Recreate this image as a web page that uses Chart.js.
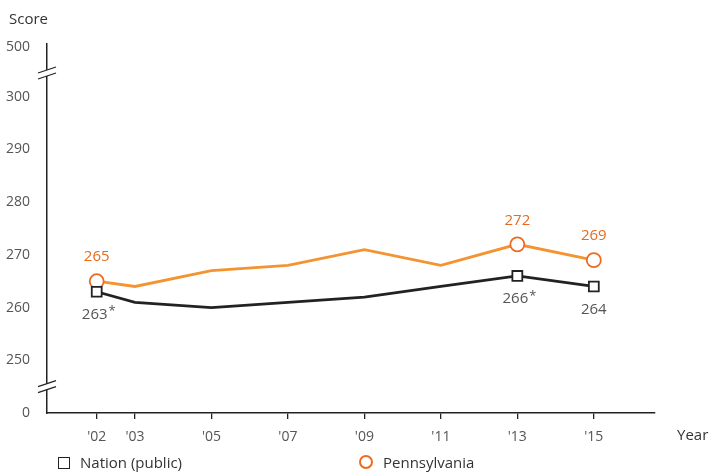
<!DOCTYPE html>
<html>
<head>
<meta charset="utf-8">
<script src="https://cdn.jsdelivr.net/npm/chart.js@4"></script>
<style>
  body { margin: 0; background: #fff; }
  #wrap { position: relative; width: 715px; height: 472px; overflow: hidden; font-family: "Open Sans", sans-serif; }
  .leg { position: absolute; top: 452px; font-size: 15px; color: #333; white-space: nowrap; }
  .sq { display: inline-block; width: 10px; height: 10px; border: 1.8px solid #222; margin-right: 10px; vertical-align: -1px; }
  .ci { display: inline-block; width: 10px; height: 10px; border: 2px solid #ee6a1f; border-radius: 50%; margin-right: 10px; vertical-align: -1px; }
</style>
</head>
<body>
<div id="wrap">
  <canvas id="chart" width="715" height="472"></canvas>
  <div class="leg" style="left:58px"><span class="sq"></span>Nation (public)</div>
  <div class="leg" style="left:359px"><span class="ci"></span>Pennsylvania</div>
</div>
<script>
const years = [2002, 2003, 2005, 2007, 2009, 2011, 2013, 2015];
const xTickLabels = ["'02", "'03", "'05", "'07", "'09", "'11", "'13", "'15"];
const nation = [263, 261, 260, 261, 262, 264, 266, 264];
const pennsylvania = [265, 264, 267, 268, 271, 268, 272, 269];

// y axis is broken: 0 sits just below 250 and 500 just above 300
const yTickValues = [240, 250, 260, 270, 280, 290, 300, 309.5];
const yTickLabels = ['0', '250', '260', '270', '280', '290', '300', '500'];
const yBreaks = [245, 304.5];

// which points get a marker and a value label (index -> text)
const paLabels = { 0: '265', 6: '272', 7: '269' };
const natLabels = { 0: ['263', '*'], 6: ['266', '*'], 7: ['264', ''] };

const orange = '#f39430';
const orangeMark = '#ec6a22';
const dark = '#222';

const extras = {
  id: 'extras',
  afterDatasetsDraw(chart) {
    const ctx = chart.ctx;
    const x = chart.scales.x, y = chart.scales.y;
    ctx.save();
    ctx.font = '15px "Open Sans"';
    ctx.textBaseline = 'middle';
    ctx.textAlign = 'center';
    // orange value labels above
    ctx.fillStyle = '#e86a1c';
    for (const i in paLabels) {
      ctx.fillText(paLabels[i], x.getPixelForValue(years[i]), y.getPixelForValue(pennsylvania[i]) - 24);
    }
    // nation labels below
    ctx.fillStyle = '#555';
    for (const i in natLabels) {
      const px = x.getPixelForValue(years[i]);
      const py = y.getPixelForValue(nation[i]) + 23;
      const t = natLabels[i];
      ctx.font = '15px "Open Sans"';
      const w = ctx.measureText(t[0]).width;
      ctx.textAlign = 'left';
      const sx = t[1] ? px - w / 2 - 2 : px - w / 2;
      ctx.fillText(t[0], sx, py);
      if (t[1]) {
        ctx.font = '13px "Open Sans"';
        ctx.fillText(t[1], sx + w + 1, py - 3);
      }
    }
    // axis break marks
    const ax = x.left;
    ctx.strokeStyle = dark;
    ctx.lineWidth = 1.3;
    yBreaks.forEach(v => {
      const py = y.getPixelForValue(v);
      ctx.fillStyle = '#fff';
      ctx.fillRect(ax - 3, py - 3, 6, 6);
      [-3, 3].forEach(o => {
        ctx.beginPath();
        ctx.moveTo(ax - 9, py + o + 3);
        ctx.lineTo(ax + 9, py + o - 3);
        ctx.stroke();
      });
    });
    // axis titles
    ctx.fillStyle = '#333';
    ctx.font = '15px "Open Sans"';
    ctx.textAlign = 'left';
    ctx.fillText('Score', 9, 20);
    ctx.fillText('Year', 677, 436);
    ctx.restore();
  }
};

const markerRadius = (labels) => years.map((_, i) => (i in labels ? 7 : 0));

new Chart(document.getElementById('chart'), {
  type: 'line',
  data: {
    datasets: [
      {
        label: 'Nation (public)',
        data: years.map((yr, i) => ({ x: yr, y: nation[i] })),
        borderColor: dark,
        borderWidth: 2.8,
        pointStyle: 'rect',
        pointRadius: markerRadius(natLabels),
        pointBorderWidth: 1.8,
        pointBackgroundColor: '#fff',
        pointBorderColor: dark,
        tension: 0
      },
      {
        label: 'Pennsylvania',
        data: years.map((yr, i) => ({ x: yr, y: pennsylvania[i] })),
        borderColor: orange,
        borderWidth: 2.8,
        pointStyle: 'circle',
        pointRadius: markerRadius(paLabels),
        pointBorderWidth: 1.8,
        pointBackgroundColor: '#fff',
        pointBorderColor: orangeMark,
        tension: 0
      }
    ]
  },
  options: {
    responsive: false,
    animation: false,
    layout: { padding: { top: 44, right: 60, left: 0, bottom: 0 } },
    plugins: { legend: { display: false }, tooltip: { enabled: false } },
    scales: {
      x: {
        type: 'linear',
        min: 2000.7,
        max: 2016.6,
        afterBuildTicks: s => { s.ticks = years.map(v => ({ value: v })); },
        afterFit: s => { s.height = 59; },
        ticks: {
          callback: (v, i) => xTickLabels[i],
          color: '#555',
          font: { family: 'Open Sans', size: 14 },
          padding: 10,
          maxRotation: 0,
          autoSkip: false
        },
        grid: { display: true, drawOnChartArea: false, drawTicks: true, tickLength: 6, color: dark, lineWidth: 1.3 },
        border: { display: true, color: dark, width: 1.5 }
      },
      y: {
        min: 240,
        max: 310,
        afterBuildTicks: s => { s.ticks = yTickValues.map(v => ({ value: v })); },
        afterFit: s => { s.width = 47; },
        ticks: {
          callback: (v, i) => yTickLabels[i],
          color: '#555',
          font: { family: 'Open Sans', size: 14 },
          padding: 9
        },
        grid: { display: false },
        border: { display: true, color: dark, width: 1.5 }
      }
    }
  },
  plugins: [extras]
});
</script>
</body>
</html>
